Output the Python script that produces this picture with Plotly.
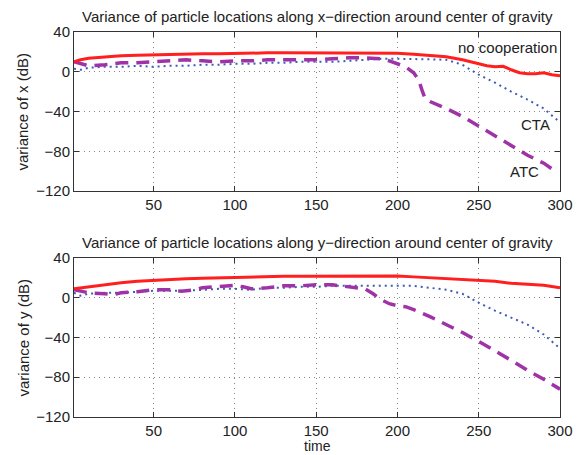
import plotly.graph_objects as go

# ---- data ----
t_red_x = [1, 5, 10, 20, 30, 40, 50, 60, 70, 80, 90, 100, 110, 120, 130, 140, 150, 160, 170, 180, 190, 200, 210, 220, 230, 240, 250, 255, 260, 265, 270, 275, 280, 285, 290, 295, 300]
v_red_x = [10, 12, 13.5, 15, 16, 16.5, 17, 17.5, 18, 18, 18, 18.5, 18.5, 19, 19, 19, 19, 19, 19, 19, 19, 18.5, 17.5, 16.5, 15, 12, 8, 6, 5, 5.5, 2, -1, -2, -2, -1, -3, -4]

t_cta_x = [1, 5, 10, 20, 30, 40, 50, 60, 70, 80, 90, 100, 110, 120, 130, 140, 150, 160, 170, 180, 190, 200, 210, 220, 230, 240, 250, 260, 270, 280, 290, 300]
v_cta_x = [3, 2, 4, 5, 5, 6, 5, 6, 6, 7, 7, 8, 8, 9, 9, 10, 10, 10, 11, 12, 13, 13, 13, 12.5, 12, 7, -3, -11, -20, -28, -37, -51]

t_atc_x = [1, 5, 10, 20, 30, 40, 50, 60, 70, 80, 90, 100, 110, 120, 130, 140, 150, 160, 170, 180, 190, 195, 200, 205, 210, 213, 215, 217, 220, 230, 240, 250, 260, 270, 280, 290, 297]
v_atc_x = [10, 8, 6, 7, 9, 9, 10, 11, 12, 11, 10, 11, 11, 12, 12, 12, 12, 13, 14, 14, 13, 11, 8, 5, -1, -8, -18, -27, -30, -37, -45, -55, -64, -74, -84, -92, -100]

t_red_y = [1, 10, 20, 30, 40, 50, 60, 70, 80, 90, 100, 110, 120, 130, 140, 150, 160, 170, 180, 190, 200, 210, 220, 230, 240, 250, 260, 270, 280, 290, 300]
v_red_y = [9, 11, 13.5, 15, 16.5, 17.5, 18, 19, 19.5, 20, 20.5, 21, 21, 21.5, 21.5, 21.5, 22, 22, 22, 22, 22, 21, 20, 19, 18, 17, 16.5, 14.5, 13.5, 12.5, 10]

t_cta_y = [1, 5, 10, 20, 30, 40, 50, 60, 70, 80, 90, 100, 110, 120, 130, 140, 150, 160, 170, 180, 190, 200, 210, 220, 230, 240, 250, 260, 270, 280, 290, 300]
v_cta_y = [5, 2, 4, 5, 5, 6, 7, 7, 7, 8, 9, 9, 8, 10, 10, 11, 11, 12, 12, 12, 12, 12, 12, 10, 8, 4, -5, -13, -20, -27, -37, -51]

t_atc_y = [1, 5, 10, 20, 25, 30, 40, 50, 60, 67, 75, 80, 90, 100, 105, 110, 120, 130, 140, 150, 160, 170, 175, 180, 185, 190, 195, 200, 205, 210, 220, 230, 240, 250, 260, 270, 280, 290, 300]
v_atc_y = [8, 7, 5, 4, 3, 5, 6, 8, 8, 6.5, 8, 10, 11, 12.5, 11, 9, 10, 12, 12, 13, 13, 11, 10, 9, 4, -2, -6, -8, -9, -12, -19, -27, -35, -44, -53, -63, -73, -82, -92]

x_ticks = [50, 100, 150, 200, 250, 300]
y_ticks = [40, 0, -40, -80, -120]
y_tick_text = ["40", "0", "\u221240", "\u221280", "\u2212120"]

titles = ["Variance of particle locations along x\u2212direction around center of gravity",
          "Variance of particle locations along y\u2212direction around center of gravity"]
ylabels = ["variance of x (dB)", "variance of y (dB)"]

RED = "#ff1f1f"
BLUE = "#3d5cb8"
PURPLE = "#a032a8"
FONT = "Liberation Sans, Arial, sans-serif"

fig = go.Figure()

def add(t, v, color, width, dash, ax):
    fig.add_trace(go.Scatter(x=t, y=v, mode="lines", xaxis="x" + ax, yaxis="y" + ax,
                             line=dict(color=color, width=width, dash=dash), showlegend=False))

add(t_cta_x, v_cta_x, BLUE, 2, "2px,4px", "")
add(t_atc_x, v_atc_x, PURPLE, 3.5, "13px,8px", "")
add(t_red_x, v_red_x, RED, 3, "solid", "")
add(t_cta_y, v_cta_y, BLUE, 2, "2px,4px", "2")
add(t_atc_y, v_atc_y, PURPLE, 3.5, "13px,8px", "2")
add(t_red_y, v_red_y, RED, 3, "solid", "2")

axis_common = dict(showline=True, linecolor="#333", linewidth=1, mirror="ticks",
                   ticks="inside", ticklen=5, tickcolor="#333",
                   showgrid=True, gridcolor="#888", griddash="1px,4px", gridwidth=1,
                   zeroline=False, tickfont=dict(size=15, color="#222", family=FONT))

fig.update_layout(
    width=585, height=455,
    margin=dict(l=74, r=21, t=32, b=38),
    paper_bgcolor="white", plot_bgcolor="white",
    font=dict(family=FONT, color="#222"),
    xaxis=dict(domain=[0, 1], range=[1, 300], tickvals=x_ticks, anchor="y", **axis_common),
    yaxis=dict(domain=[0.587, 1], range=[-120, 40], tickvals=y_ticks, ticktext=y_tick_text, anchor="x", **axis_common),
    xaxis2=dict(domain=[0, 1], range=[1, 300], tickvals=x_ticks, anchor="y2", **axis_common),
    yaxis2=dict(domain=[0, 0.413], range=[-120, 40], tickvals=y_ticks, ticktext=y_tick_text, anchor="x2", **axis_common),
)

ann = []
for i, (title, yl, dom) in enumerate(zip(titles, ylabels, [[0.587, 1], [0, 0.413]])):
    ann.append(dict(text=title, xref="paper", yref="paper", x=0.5, y=dom[1], yshift=5,
                    xanchor="center", yanchor="bottom", showarrow=False,
                    font=dict(size=15, family=FONT, color="#222")))
    ann.append(dict(text=yl, xref="paper", yref="paper", x=0, xshift=-51, y=(dom[0] + dom[1]) / 2,
                    xanchor="center", yanchor="middle", textangle=-90, showarrow=False,
                    font=dict(size=15, family=FONT, color="#222")))
ann.append(dict(text="time", xref="paper", yref="paper", x=0.5, y=0, yshift=-29,
                xanchor="center", yanchor="middle", showarrow=False,
                font=dict(size=14, family=FONT, color="#222")))
ann.append(dict(text="no cooperation", xref="x", yref="y", x=268, y=24, showarrow=False,
                font=dict(size=15, family=FONT, color="#222")))
ann.append(dict(text="CTA", xref="x", yref="y", x=285, y=-53, showarrow=False,
                font=dict(size=15, family=FONT, color="#222")))
ann.append(dict(text="ATC", xref="x", yref="y", x=278, y=-100, showarrow=False,
                font=dict(size=15, family=FONT, color="#222")))
fig.update_layout(annotations=ann)

fig.write_html("out.html")
